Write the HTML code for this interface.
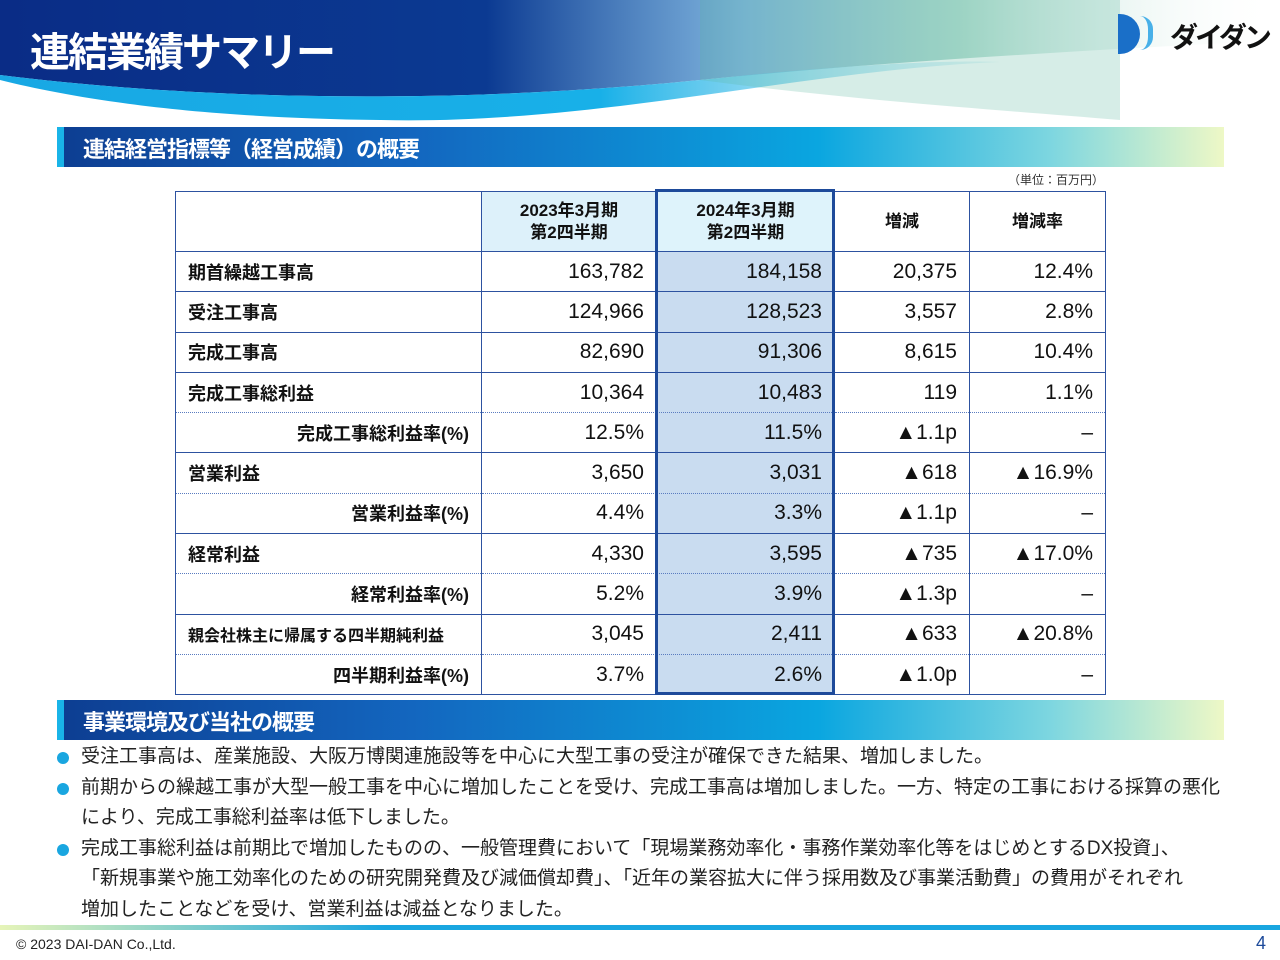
<!DOCTYPE html>
<html><head><meta charset="utf-8"><style>
body{margin:0;width:1280px;height:960px;position:relative;background:#fff;font-family:"Liberation Sans","Noto Sans CJK JP",sans-serif;overflow:hidden}
.abs{position:absolute}
.bar{position:absolute;left:57px;width:1167px;height:40px;background:linear-gradient(90deg,#0d3e92 0%,#1366bf 30%,#0aa6e0 65%,#7dd6e0 85%,#eef8c6 100%);border-left:7px solid #19b4e8;box-sizing:border-box}
.bar span{position:absolute;left:19px;top:5px;color:#fff;font-weight:bold;font-size:22px;letter-spacing:-1px}
table{position:absolute;left:175px;top:191px;border-collapse:collapse;table-layout:fixed;width:930px;font-size:21px;color:#111}
td{border:1.5px solid #2d52a0;height:40.3px;padding:0 12px;box-sizing:border-box;white-space:nowrap}
td.l{font-weight:bold;font-size:18px}
td.r{text-align:right}
td.s{text-align:right}
tr.p td{border-bottom:1.5px dotted #5a7cc0}
tr.c td{border-top:1.5px dotted #5a7cc0}
th{border:1.5px solid #2d52a0;height:60px;font-size:17px;font-weight:bold;line-height:22px;box-sizing:border-box}
.h{background:#c9dcf0}
.b{position:absolute;left:57px;font-size:19px;color:#222;line-height:30.5px;white-space:nowrap}
.b div{position:relative;padding-left:24px}
.b div:before{content:"";position:absolute;left:0;top:10px;width:12px;height:12px;border-radius:50%;background:#19a6e0}
</style></head><body>
<svg class="abs" style="left:0;top:0" width="1280" height="125">
<defs>
<linearGradient id="g1" x1="0" x2="1"><stop offset="0" stop-color="#0a2c86"/><stop offset="0.38" stop-color="#0b3a92"/><stop offset="0.58" stop-color="#5d9fd4" stop-opacity="0.8"/><stop offset="0.75" stop-color="#7fc6b0" stop-opacity="0.6"/><stop offset="1" stop-color="#fff" stop-opacity="0"/></linearGradient>
<linearGradient id="g2" x1="0" x2="1"><stop offset="0" stop-color="#18a8e4"/><stop offset="0.6" stop-color="#18b0e8"/><stop offset="1" stop-color="#bde8f0" stop-opacity="0.3"/></linearGradient>
</defs>
<path d="M0 0H1280V40C1100 50 900 60 700 80 450 105 200 100 0 75Z" fill="url(#g1)"/>
<path d="M0 75C200 100 450 105 700 80 850 64 950 60 1000 62 800 70 600 125 380 120 200 118 80 100 0 80Z" fill="url(#g2)"/>
<path d="M700 0H1120V120C1000 110 850 100 700 80Z" fill="#5db6a0" opacity="0.25"/>
</svg>
<div class="abs" style="left:30px;top:20px;color:#fff;font-size:40px;font-weight:bold;letter-spacing:-2px">連結業績サマリー</div>
<div class="abs" style="left:1118px;top:14px;width:22px;height:40px;background:#1a6fc8;border-radius:0 22px 22px 0"></div>
<div class="abs" style="left:1140px;top:16px;width:8px;height:34px;border-right:5px solid #48b0e8;border-radius:0 20px 20px 0"></div>
<div class="abs" style="left:1170px;top:16px;font-size:28px;font-weight:bold;color:#111;letter-spacing:-3px">ダイダン</div>
<div class="bar" style="top:127px"><span>連結経営指標等（経営成績）の概要</span></div>
<div class="abs" style="left:1008px;top:171px;font-size:12px;color:#333">（単位：百万円）</div>
<table>
<colgroup><col style="width:306px"><col style="width:175px"><col style="width:178px"><col style="width:135px"><col style="width:136px"></colgroup>
<tr><th></th><th style="background:#ddf1fa">2023年3月期<br>第2四半期</th><th style="background:#def3fb">2024年3月期<br>第2四半期</th><th>増減</th><th>増減率</th></tr>
<tr><td class="l">期首繰越工事高</td><td class="r">163,782</td><td class="r h">184,158</td><td class="r">20,375</td><td class="r">12.4%</td></tr>
<tr><td class="l">受注工事高</td><td class="r">124,966</td><td class="r h">128,523</td><td class="r">3,557</td><td class="r">2.8%</td></tr>
<tr><td class="l">完成工事高</td><td class="r">82,690</td><td class="r h">91,306</td><td class="r">8,615</td><td class="r">10.4%</td></tr>
<tr class="p"><td class="l">完成工事総利益</td><td class="r">10,364</td><td class="r h">10,483</td><td class="r">119</td><td class="r">1.1%</td></tr>
<tr class="c"><td class="l s">完成工事総利益率(%)</td><td class="r">12.5%</td><td class="r h">11.5%</td><td class="r">▲1.1p</td><td class="r">–</td></tr>
<tr class="p"><td class="l">営業利益</td><td class="r">3,650</td><td class="r h">3,031</td><td class="r">▲618</td><td class="r">▲16.9%</td></tr>
<tr class="c"><td class="l s">営業利益率(%)</td><td class="r">4.4%</td><td class="r h">3.3%</td><td class="r">▲1.1p</td><td class="r">–</td></tr>
<tr class="p"><td class="l">経常利益</td><td class="r">4,330</td><td class="r h">3,595</td><td class="r">▲735</td><td class="r">▲17.0%</td></tr>
<tr class="c"><td class="l s">経常利益率(%)</td><td class="r">5.2%</td><td class="r h">3.9%</td><td class="r">▲1.3p</td><td class="r">–</td></tr>
<tr class="p"><td class="l" style="font-size:16px">親会社株主に帰属する四半期純利益</td><td class="r">3,045</td><td class="r h">2,411</td><td class="r">▲633</td><td class="r">▲20.8%</td></tr>
<tr class="c"><td class="l s">四半期利益率(%)</td><td class="r">3.7%</td><td class="r h">2.6%</td><td class="r">▲1.0p</td><td class="r">–</td></tr>
</table>
<div class="abs" style="left:655px;top:189px;width:174px;height:500px;border:3px solid #1d4a9a"></div>
<div class="bar" style="top:700px"><span>事業環境及び当社の概要</span></div>
<div class="b" style="top:742px;width:1175px">
<div>受注工事高は、産業施設、大阪万博関連施設等を中心に大型工事の受注が確保できた結果、増加しました。</div>
<div>前期からの繰越工事が大型一般工事を中心に増加したことを受け、完成工事高は増加しました。一方、特定の工事における採算の悪化<br>により、完成工事総利益率は低下しました。</div>
<div>完成工事総利益は前期比で増加したものの、一般管理費において「現場業務効率化・事務作業効率化等をはじめとするDX投資」、<br>「新規事業や施工効率化のための研究開発費及び減価償却費」、「近年の業容拡大に伴う採用数及び事業活動費」の費用がそれぞれ<br>増加したことなどを受け、営業利益は減益となりました。</div>
</div>
<div class="abs" style="left:0;top:925px;width:1280px;height:5px;background:linear-gradient(90deg,#e6f4b8,#19a6e0 30%,#19a6e0)"></div>
<div class="abs" style="left:16px;top:936px;font-size:14px;color:#222">© 2023 DAI-DAN Co.,Ltd.</div>
<div class="abs" style="left:1256px;top:933px;font-size:18px;color:#1d4a9a">4</div>
</body></html>
